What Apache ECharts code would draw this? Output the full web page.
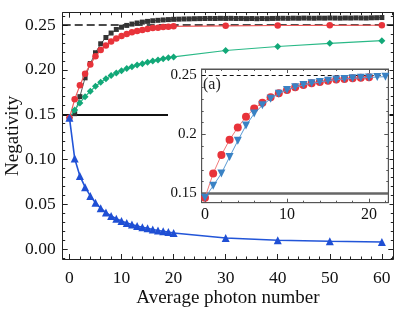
<!DOCTYPE html>
<html>
<head>
<meta charset="utf-8">
<script src="https://cdn.jsdelivr.net/npm/echarts@6/dist/echarts.min.js"></script>
<style>html,body{margin:0;padding:0;background:#fff}#c{width:399px;height:312px}</style>
</head>
<body>
<div id="c"></div>
<script>
// ---------- data ----------
const xBlack = [0,1,2,3,4,5,6,7,8,9,10,11,12,13,14,15,16,17,18,19,20,21,22,23,24,25,26,27,28,29,30,31,32,33,34,35,36,37,38,39,40,41,42,43,44,45,46,47,48,49,50,51,52,53,54,55,56,57,58,59,60];
const yBlack = [0.1464,0.151,0.170,0.191,0.207,0.219,0.229,0.236,0.241,0.245,0.2475,0.2495,0.251,0.2522,0.2532,0.254,0.2547,0.2552,0.2556,0.256,0.2563,
  0.2565,0.2567,0.2568,0.257,0.2571,0.2572,0.2573,0.2572,0.2574,0.2573,0.2574,0.2572,0.2573,0.2571,0.2572,0.257,0.2572,0.2571,0.2573,0.2574,
  0.2575,0.2574,0.2576,0.2575,0.2577,0.2576,0.2575,0.2577,0.2576,0.2578,0.2577,0.2576,0.2578,0.2577,0.2579,0.2578,0.2577,0.258,0.2581,0.2583];
const xMain = [0,1,2,3,4,5,6,7,8,9,10,11,12,13,14,15,16,17,18,19,20,30,40,50,60];
const yRed = [0.1464,0.167,0.1826,0.1955,0.206,0.215,0.222,0.227,0.2315,0.235,0.2377,0.240,0.242,0.2434,0.2445,0.2456,0.2465,0.247,0.2476,0.248,0.2485,0.2491,0.2494,0.2496,0.2497];
const yGreen = [0.1464,0.155,0.163,0.170,0.176,0.1815,0.186,0.190,0.1935,0.1965,0.199,0.2013,0.2033,0.2052,0.2068,0.2083,0.2097,0.211,0.2122,0.2133,0.2143,0.2215,0.226,0.2295,0.2325];
const yBlue = [0.1464,0.101,0.0815,0.069,0.0592,0.0517,0.0455,0.0406,0.0368,0.0338,0.0312,0.029,0.0272,0.0257,0.0243,0.023,0.0218,0.0207,0.0197,0.0188,0.0179,0.0122,0.0098,0.0086,0.0077];
const xInsetRed = [0,1,2,3,4,5,6,7,8,9,10,11,12,13,14,15,16,17,18,19,20];
const yInsetRed = [0.1464,0.167,0.1826,0.1955,0.206,0.215,0.222,0.227,0.2315,0.235,0.2377,0.240,0.242,0.2434,0.2445,0.2456,0.2465,0.247,0.2476,0.248,0.2485];
const xInsetBlue = [0,1,2,3,4,5,6,7,8,9,10,11,12,13,14,15,16,17,18,19,20,21,22];
const yInsetBlue = [0.1464,0.1565,0.167,0.181,0.1947,0.2077,0.2177,0.2248,0.2303,0.2346,0.2377,0.240,0.242,0.2434,0.2445,0.2456,0.2465,0.247,0.2476,0.248,0.2483,0.2487,0.249];
const refMax = 0.25;
const refBase = 0.1464;
// ticks
const xMajor = [0,10,20,30,40,50,60];
const xMinor = [2,4,6,8,12,14,16,18,22,24,26,28,32,34,36,38,42,44,46,48,52,54,56,58,62];
const yMajor = [0,0.05,0.10,0.15,0.20,0.25];
const yMinor = [-0.01,0.01,0.02,0.03,0.04,0.06,0.07,0.08,0.09,0.11,0.12,0.13,0.14,0.16,0.17,0.18,0.19,0.21,0.22,0.23,0.24,0.26];
const ixMajor = [0,10,20];
const ixMinor = [2,4,6,8,12,14,16,18,22];
const iyMajor = [0.15,0.2,0.25];
const iyMinor = [0.16,0.17,0.18,0.19,0.21,0.22,0.23,0.24];

const FONT = '"Liberation Serif", "Times New Roman", serif';
const pair = (xs, ys) => xs.map((x, i) => [x, ys[i]]);

function axis(o) {
  return {
    type: 'value', gridIndex: o.grid, position: o.pos, min: o.min, max: o.max, z: o.z || 0,
    axisLine: { show: !!o.line, onZero: false, lineStyle: { color: o.lineColor || '#222', width: 1 } },
    axisTick: { show: true, inside: true, length: o.len, customValues: o.ticks, lineStyle: { color: o.lineColor || '#222', width: 1 } },
    axisLabel: o.labels ? { show: true, customValues: o.ticks, formatter: o.fmt, fontFamily: FONT, fontSize: o.fs, color: '#111', margin: o.margin } : { show: false },
    splitLine: { show: false },
    name: o.name || '', nameLocation: 'middle', nameGap: o.nameGap || 0, nameMoveOverlap: false,
    nameTextStyle: { fontFamily: FONT, fontSize: 19, color: '#111' }
  };
}
function hiddenAxis(g) {
  return { type: 'value', gridIndex: g, min: 0, max: 1, show: false };
}

const MX = [-1.3, 62.2], MY = [-0.0112, 0.2637];
const IX = [-0.4, 22.35], IY = [0.1422, 0.2555];

const chart = echarts.init(document.getElementById('c'), null, { renderer: 'canvas' });
chart.setOption({
  animation: false,
  grid: [
    { left: 62.7, top: 12.7, width: 330.6, height: 246.3, show: false, containLabel: false, outerBoundsMode: 'none' },
    { left: 201.7, top: 69, width: 186.6, height: 133.7, show: true, backgroundColor: '#fff', borderColor: '#555', borderWidth: 1, z: 6, containLabel: false, outerBoundsMode: 'none' },
    { left: 168, top: 62, width: 221.5, height: 158, show: true, backgroundColor: '#fff', borderWidth: 0, borderColor: 'rgba(0,0,0,0)', z: 5, containLabel: false, outerBoundsMode: 'none' }
  ],
  xAxis: [
    axis({ grid: 0, pos: 'bottom', min: MX[0], max: MX[1], line: true, len: 5, ticks: xMajor, labels: true, fmt: v => String(v), fs: 17.5, margin: 10, name: 'Average photon number', nameGap: 30 }),
    axis({ grid: 0, pos: 'bottom', min: MX[0], max: MX[1], len: 2.5, ticks: xMinor }),
    axis({ grid: 0, pos: 'top', min: MX[0], max: MX[1], line: true, len: 5, ticks: xMajor }),
    axis({ grid: 0, pos: 'top', min: MX[0], max: MX[1], len: 2.5, ticks: xMinor }),
    axis({ grid: 1, pos: 'bottom', min: IX[0], max: IX[1], line: true, lineColor: '#555', len: 4, ticks: ixMajor, labels: true, fmt: v => String(v), fs: 16, margin: 4, z: 7 }),
    axis({ grid: 1, pos: 'bottom', min: IX[0], max: IX[1], lineColor: '#555', len: 2, ticks: ixMinor, z: 7 }),
    axis({ grid: 1, pos: 'top', min: IX[0], max: IX[1], line: true, lineColor: '#555', len: 4, ticks: ixMajor, z: 7 }),
    axis({ grid: 1, pos: 'top', min: IX[0], max: IX[1], lineColor: '#555', len: 2, ticks: ixMinor, z: 7 }),
    hiddenAxis(2)
  ],
  yAxis: [
    axis({ grid: 0, pos: 'left', min: MY[0], max: MY[1], line: true, len: 5, ticks: yMajor, labels: true, fmt: v => v.toFixed(2), fs: 17.5, margin: 7, name: 'Negativity', nameGap: 40 }),
    axis({ grid: 0, pos: 'left', min: MY[0], max: MY[1], len: 2.5, ticks: yMinor }),
    axis({ grid: 0, pos: 'right', min: MY[0], max: MY[1], line: true, len: 5, ticks: yMajor }),
    axis({ grid: 0, pos: 'right', min: MY[0], max: MY[1], len: 2.5, ticks: yMinor }),
    axis({ grid: 1, pos: 'left', min: IY[0], max: IY[1], line: true, lineColor: '#555', len: 4, ticks: iyMajor, labels: true, fmt: v => String(v), fs: 15, margin: 5, z: 7 }),
    axis({ grid: 1, pos: 'left', min: IY[0], max: IY[1], lineColor: '#555', len: 2, ticks: iyMinor, z: 7 }),
    axis({ grid: 1, pos: 'right', min: IY[0], max: IY[1], line: true, lineColor: '#555', len: 4, ticks: iyMajor, z: 7 }),
    axis({ grid: 1, pos: 'right', min: IY[0], max: IY[1], lineColor: '#555', len: 2, ticks: iyMinor, z: 7 }),
    hiddenAxis(2)
  ],
  graphic: [
    { type: 'text', left: 203, top: 77, z: 20, style: { text: '(a)', font: '16px ' + FONT, fill: '#222' } }
  ],
  series: [
    { type: 'line', xAxisIndex: 0, yAxisIndex: 0, z: 2, data: pair(xBlack, yBlack), symbol: 'rect', symbolSize: 5,
      itemStyle: { color: '#333' }, lineStyle: { color: '#555', width: 1 },
      markLine: { z: 1, silent: true, symbol: 'none', label: { show: false },
        data: [
          { yAxis: refMax, lineStyle: { color: '#111', width: 1.6, type: [8, 4] } },
          { yAxis: refBase, lineStyle: { color: '#111', width: 2, type: 'solid' } }
        ] } },
    { type: 'line', xAxisIndex: 0, yAxisIndex: 0, z: 3, data: pair(xMain, yGreen), symbol: 'diamond', symbolSize: 7,
      itemStyle: { color: '#12a878' }, lineStyle: { color: '#2ab987', width: 1.2 } },
    { type: 'line', xAxisIndex: 0, yAxisIndex: 0, z: 3, data: pair(xMain, yRed), symbol: 'circle', symbolSize: 6.5,
      itemStyle: { color: '#e8333a' }, lineStyle: { color: '#ee5a5a', width: 1.2 } },
    { type: 'line', xAxisIndex: 0, yAxisIndex: 0, z: 3, data: pair(xMain, yBlue), symbol: 'triangle', symbolSize: 8,
      itemStyle: { color: '#1f4fd4' }, lineStyle: { color: '#2255d8', width: 1.6 } },
    { type: 'line', xAxisIndex: 4, yAxisIndex: 4, z: 8, data: pair(xInsetRed, yInsetRed), symbol: 'circle', symbolSize: 8,
      itemStyle: { color: '#e8333a' }, lineStyle: { color: '#f07a7a', width: 1 },
      markLine: { z: 7.5, silent: true, symbol: 'none', label: { show: false },
        data: [
          { yAxis: refMax, lineStyle: { color: '#111', width: 1, type: [4, 3] } },
          { yAxis: refBase, lineStyle: { color: '#666', width: 2.5, type: 'solid' } }
        ] } },
    { type: 'line', xAxisIndex: 4, yAxisIndex: 4, z: 9, data: pair(xInsetBlue, yInsetBlue), symbol: 'triangle', symbolRotate: 180, symbolSize: 8,
      itemStyle: { color: '#3a82c4' }, lineStyle: { color: '#5a9ad4', width: 1 } }
  ]
});
</script>
</body>
</html>
